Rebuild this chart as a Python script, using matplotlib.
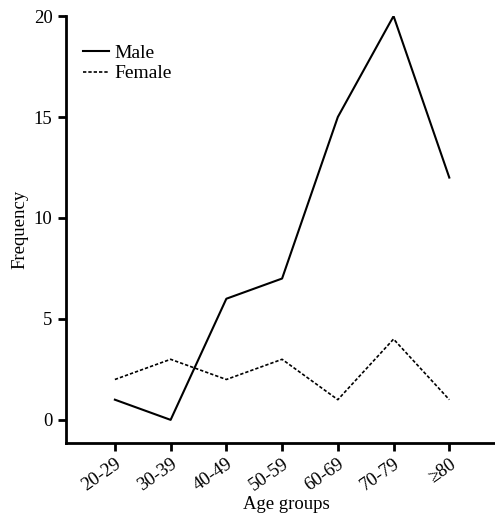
import matplotlib
matplotlib.use("Agg")
import matplotlib.pyplot as plt

# frequency by age group
age_groups = ["20-29", "30-39", "40-49", "50-59", "60-69", "70-79", "\u226580"]
male = [1, 0, 6, 7, 15, 20, 12]
female = [2, 3, 2, 3, 1, 4, 1]

plt.rcParams['font.family'] = ['Liberation Serif', 'DejaVu Serif']

fig = plt.figure(figsize=(4.95, 5.18), dpi=100)
ax = fig.add_axes([0.133, 0.145, 0.867, 0.824])

x = range(len(age_groups))
ax.plot(x, male, color="black", linewidth=1.5, label="Male")
ax.plot(x, female, color="black", linewidth=1.2, linestyle=(0, (2, 1.2)), label="Female")

ax.set_xlim(-0.88, 6.82)
ax.set_ylim(-1.14, 20)
ax.set_yticks([0, 5, 10, 15, 20])
ax.set_xticks(list(x))
ax.set_xticklabels(age_groups, rotation=35, ha="right", rotation_mode="anchor")
ax.tick_params(axis="both", direction="out", length=6, width=2, labelsize=13.5)
ax.tick_params(axis="x", pad=3)

for side in ["top", "right"]:
    ax.spines[side].set_visible(False)
for side in ["left", "bottom"]:
    ax.spines[side].set_linewidth(2)

ax.set_xlabel("Age groups", fontsize=13.5)
ax.set_ylabel("Frequency", fontsize=13.5)
# place the x label like the original, just under the rotated ticks
ax.xaxis.set_label_coords(0.515, -0.125)

ax.legend(loc="upper left", bbox_to_anchor=(0.0, 0.975), frameon=False,
          fontsize=14, handlelength=1.3, handletextpad=0.3, labelspacing=0.15)

fig.savefig("out.png", dpi=100)
